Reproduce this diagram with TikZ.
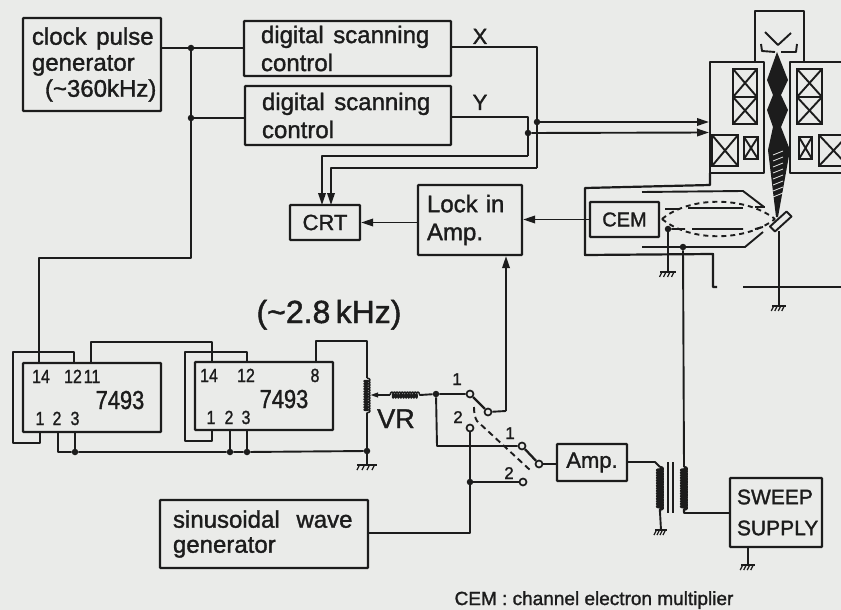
\documentclass[tikz,border=0pt]{standalone}
\usepackage{fontspec}
\setmainfont{Liberation Sans}[RawFeature={embolden=1.4}]
\usetikzlibrary{arrows.meta,decorations.pathmorphing,calc}
\definecolor{paper}{RGB}{234,235,233}
\definecolor{ink}{RGB}{28,28,28}
\newcommand{\narrow}[1]{\scalebox{0.84}[1]{#1}}
\tikzset{
  wire/.style={draw=ink,line width=1.9pt,line join=round},
  arr/.style={wire,-{Triangle[length=12pt,width=7.5pt]}},
  box/.style={draw=ink,line width=2.2pt,inner sep=0pt,text=ink,align=left,rounded corners=0.6pt},
  txt/.style={font=\fontsize{24}{28}\selectfont},
  lab/.style={text=ink,inner sep=0pt,anchor=base},
  pin/.style={lab,font=\fontsize{19}{19}\selectfont},
  swn/.style={lab,font=\fontsize{17}{17}\selectfont},
  dot/.style={circle,fill=ink,inner sep=0pt,minimum size=6.5pt},
  contact/.style={circle,draw=ink,line width=1.7pt,fill=paper,inner sep=0pt,minimum size=7pt},
  coilw/.style={wire,decorate,decoration={coil,segment length=2.6pt,amplitude=3pt,aspect=0.4}},
  coilb/.style={draw=ink,line width=1.9pt},
  pics/gnd/.style={code={
    \draw[draw=ink,line width=2.2pt] (-#1,0)--(#1,0);
    \foreach \k in {-3,-1,1,3}{\draw[draw=ink,line width=1.3pt] ({\k*#1/4},0)--({\k*#1/4-2.5},5);}
  }}
}
\newcommand{\xcoil}[4]{\draw[coilb] (#1,#2) rectangle (#3,#4) (#1,#2)--(#3,#4) (#1,#4)--(#3,#2);}
\begin{document}
\begin{tikzpicture}[x=1pt,y=-1pt]
\fill[paper] (0,0) rectangle (841,610);
\useasboundingbox (0,0) rectangle (841,610);

% boxes
\node[box,minimum width=138,minimum height=93,inner xsep=9pt,text width=120pt,font=\fontsize{24}{26}\selectfont] (clock) at (92,64.5)
  {\mbox{clock\hspace{0.4em}pulse}\\generator\\\mbox{\hspace*{13pt}(\textasciitilde 360kHz)}};
\node[box,txt,minimum width=207,minimum height=55,inner xsep=17pt,text width=173pt] (dsx) at (347.5,48.5) {digital\hspace{0.4em}scanning\\control};
\node[box,txt,minimum width=206,minimum height=59,inner xsep=17pt,text width=172pt] (dsy) at (348,115.5) {digital\hspace{0.4em}scanning\\control};
\node[box,minimum width=70,minimum height=35,font=\fontsize{22}{28}\selectfont] (crt) at (325,222.5) {CRT};
\node[box,txt,minimum width=104,minimum height=70,inner xsep=9pt,text width=86pt] (lock) at (470,220) {Lock in\\Amp.};
\node[box,minimum width=69,minimum height=35,font=\fontsize{20}{28}\selectfont] (cem) at (624.5,219.5) {CEM};
\node[box,minimum width=138,minimum height=69] (chipa) at (92,397.5) {};
\node[box,minimum width=138,minimum height=68] (chipb) at (264,396) {};
\node[box,minimum width=208,minimum height=68,inner xsep=9pt,text width=190pt,font=\fontsize{24}{25}\selectfont] (sine) at (264,534)
  {\hspace*{4pt}sinusoidal\hspace{0.7em}wave\\\hspace*{4pt}generator};
\node[box,minimum width=70,minimum height=37,font=\fontsize{22}{28}\selectfont] (amp) at (592,462.5) {Amp.};
\node[box,minimum width=92,minimum height=69,inner xsep=7pt,text width=78pt,font=\fontsize{21}{31}\selectfont] (sweep) at (776,512.5) {SWEEP\\SUPPLY};

% labels
\node[lab,font=\fontsize{22}{22}\selectfont] (lx) at (480,44) {X};
\node[lab,font=\fontsize{22}{22}\selectfont] (ly) at (480,110) {Y};
\node[lab,font=\fontsize{32}{32}\selectfont] (freq) at (329,323) {(\textasciitilde 2.8\,kHz)};
\node[lab,font=\fontsize{27}{27}\selectfont] (vr) at (396,428) {VR};
\node[lab,font=\fontsize{19}{19}\selectfont] (note) at (594,605) {CEM : channel electron multiplier};
\node[pin] (a14) at (41,383) {\narrow{14}};
\node[pin] (a12) at (73,383) {\narrow{12}};
\node[pin] (a11) at (92,383) {\narrow{11}};
\node[pin] (a1) at (40,425) {\narrow{1}};
\node[pin] (a2) at (57,425) {\narrow{2}};
\node[pin] (a3) at (75,425) {\narrow{3}};
\node[lab,font=\fontsize{26}{26}\selectfont] (an) at (120,409) {\narrow{7493}};
\node[pin] (b14) at (209,382) {\narrow{14}};
\node[pin] (b12) at (246,382) {\narrow{12}};
\node[pin] (b8) at (315,382) {\narrow{8}};
\node[pin] (b1) at (211,424) {\narrow{1}};
\node[pin] (b2) at (229,424) {\narrow{2}};
\node[pin] (b3) at (246,424) {\narrow{3}};
\node[lab,font=\fontsize{26}{26}\selectfont] (bn) at (284,408) {\narrow{7493}};
\node[swn] (s1a) at (457,385) {1};
\node[swn] (s2a) at (458,423) {2};
\node[swn] (s1b) at (510,439) {1};
\node[swn] (s2b) at (509,479) {2};

% junctions
\node[dot] (j1) at (191,48) {};
\node[dot] (j2) at (191,118) {};
\node[dot] (xd) at (537,122) {};
\node[dot] (yd) at (528,133) {};
\node[dot] (ja) at (75,452) {};
\node[dot] (jb) at (230,452) {};
\node[dot] (jc) at (247,452) {};
\node[dot] (jd) at (367,451) {};
\node[dot] (je) at (436,394) {};
\node[dot] (jf) at (470,482) {};
\node[dot] (jg) at (668,229) {};
\node[dot] (jh) at (683,247) {};
\node[contact] (c1a) at (470,394) {};
\node[contact] (c2a) at (470,428) {};
\node[contact] (cca) at (488,412) {};
\node[contact] (c1b) at (522,446) {};
\node[contact] (c2b) at (523,482) {};
\node[contact] (ccb) at (539,464) {};

% clock wiring
\coordinate (p14a) at (39,363);
\coordinate (j3) at (191,258);
\draw[wire] (clock.east |- j1) -- (j1) -- (dsx.west |- j1);
\draw[wire] (j1) -- (j2) -- (j3) -| (p14a);
\draw[wire] (j2) -- (dsy.west |- j2);

% X / Y wiring
\coordinate (xc) at (537,168); \coordinate (yc) at (528,156);
\coordinate (crtx) at (331,205); \coordinate (crty) at (322,205);
\coordinate (xt) at (537,47); \coordinate (yt) at (528,117);
\draw[wire] (dsx.east |- xt) -- (xt) -- (xd) -- (xc);
\draw[wire] (dsy.east |- yt) -- (yt) -- (yd) -- (yc);
\draw[arr] (xc) -| (crtx);
\draw[arr] (yc) -| (crty);
\coordinate (mx) at (709,122); \coordinate (my) at (709,132.5);
\draw[arr] (xd) -- (mx);
\draw[arr] (yd) -- (my);
\draw[arr] (lock.west |- crt.east) -- (crt.east);
\draw[arr] (cem.west) -- (lock.east |- cem.west);

% chip wiring
\coordinate (w12a) at (74,352); \coordinate (w12b) at (13,352); \coordinate (w1b) at (13,443); \coordinate (w1c) at (40,443);
\draw[wire] (w12a |- chipa.north) -- (w12a) -- (w12b) -- (w1b) -- (w1c) -- (w1c |- chipa.south);
\coordinate (w11) at (91,342); \coordinate (w14) at (212,342);
\draw[wire] (w11 |- chipa.north) -- (w11) -- (w14) -- (w14 |- chipb.north);
\coordinate (v12) at (247,352); \coordinate (v12b) at (185,352); \coordinate (v1) at (185,441); \coordinate (v1b) at (212,441);
\draw[wire] (v12 |- chipb.north) -- (v12) -- (v12b) -- (v1) -- (v1b) -- (v1b |- chipb.south);
\coordinate (v8) at (316,341); \coordinate (pt) at (367,341); \coordinate (r1) at (367,378); \coordinate (r2) at (367,413);
\draw[wire] (v8 |- chipb.north) -- (v8) -- (pt) -- (r1);
\draw[coilw,line width=1.5pt] (r1) -- (r2);
\draw[wire] (r2) -- (jd);
\coordinate (b0) at (58,452);
\draw[wire] (b0 |- chipa.south) -- (b0) -- (ja) -- (jb) -- (jc) -- (jd);
\draw[wire] (ja) -- (ja |- chipa.south);
\draw[wire] (jb) -- (jb |- chipb.south);
\draw[wire] (jc) -- (jc |- chipb.south);
\coordinate (g1) at (367,465);
\draw[wire] (jd) -- (g1);
\pic at (g1) {gnd=10};

% VR and switches
\coordinate (wp) at (370,395); \coordinate (wq) at (390,395); \coordinate (wr) at (420,395);
\draw[wire,-{Triangle[length=8pt,width=4.5pt]}] (wq) -- (wp);
\draw[coilw,line width=1.5pt] (wq) -- (wr);
\draw[wire] (wr) -- (je) -- (c1a);
\coordinate (k1) at (437,446);
\draw[wire] (je) -- (k1) -- (c1b);
\coordinate (sl) at (470,533);
\draw[wire] (c2a) -- (jf) -- (sl) -- (sine.east |- sl);
\draw[wire] (jf) -- (c2b);
\draw[wire,line width=2.3pt] (c1a) -- (cca);
\draw[wire,line width=2.3pt] (c1b) -- (ccb);
\coordinate (lk) at (506,411);
\draw[wire] (cca) -- (lk);
\draw[arr] (lk) -- (lk |- lock.south);
\draw[wire] (ccb) -- (amp.west |- ccb);
\coordinate (d1) at (474,407); \coordinate (d2) at (477,421); \coordinate (d3) at (530,470);
\draw[wire,dash pattern=on 6pt off 4pt] (d1) .. controls (474,413) and (475,418) .. (d2) -- (d3);

% transformer
\coordinate (tp) at (660,462); \coordinate (tq) at (660,467); \coordinate (tr) at (660,512); \coordinate (g2) at (661,530);
\draw[wire] (amp.east |- tp) -- (655,462) -- (tq);
\draw[coilw,line width=2.4pt] (tq) -- (tr);
\draw[wire] (tr) -- (g2);
\pic at (g2) {gnd=6};
\draw[wire,line width=1.4pt] (668,462) -- (668,513) (673,462) -- (673,513);
\coordinate (su) at (684,467); \coordinate (sd) at (684,512); \coordinate (st) at (684,513);
\draw[coilw,line width=2.4pt] (su) -- (sd);
\draw[wire] (su) -- (jh);
\draw[wire] (sd) -- (st) -- (sweep.west |- st);
\coordinate (g3) at (748,565);
\draw[wire] (g3 |- sweep.south) -- (g3);
\pic at (g3) {gnd=7};

% microscope column
\begin{scope}
\clip (0,0) rectangle (841,610);
\draw[wire,line width=2.2pt] (755,62) -- (755,11) -- (804,11) -- (804,62);
\draw[wire,line width=2.2pt] (710,173) -- (710,62) -- (764,62) -- (764,173) -- cycle;
\draw[wire,line width=2.2pt] (850,62) -- (790,62) -- (790,173) -- (850,173);
\xcoil{733}{69}{757}{97}\xcoil{733}{97}{757}{124}
\xcoil{797}{69}{822}{97}\xcoil{797}{97}{822}{124}
\xcoil{712}{135}{738}{166}\xcoil{744}{137}{758}{159}
\xcoil{799}{137}{812}{159}\xcoil{819}{135}{848}{166}
\draw[wire] (765,32) -- (778,45) -- (791,33);
\draw[wire] (761,44) -- (762,51) -- (775,52) (781,52) -- (796,52) -- (797,44);
\fill[ink] (777,52) -- (788,80) -- (781,95) -- (788,110) -- (781,127) -- (790,150) -- (778,217)
  -- (776,217) -- (768,150) -- (773,127) -- (767,110) -- (773,95) -- (767,80) -- cycle;
\foreach \yy in {152,158,...,194}{\draw[paper,line width=0.8pt] (773,\yy+3) -- (783,\yy-1);}
\draw[wire,fill=paper] (770,226.5) -- (775,231.5) -- (791.5,216.5) -- (786.5,211.5) -- cycle;
\coordinate (g4) at (779,306);
\draw[wire] (779,231) -- (g4);
\pic at (g4) {gnd=7};
\draw[wire] (743,287) -- (841,287);
\draw[wire,line width=2.2pt] (710,173) -- (710,185) -- (585,188) -- (585,255) -- (713,254) -- (713,287) -- (717,287);
\end{scope}

% energy analyser
\draw[wire] (642,192) -- (743,191) -- (764,207);
\draw[wire] (642,247) -- (745,247) -- (763,232);
\draw[wire] (665,209) -- (680,209) (688,208) -- (743,208) (755,207) -- (765,207);
\draw[wire] (jg) -- (685,229) (692,229) -- (743,229) (755,229) -- (763,227);
\draw[wire,dash pattern=on 5pt off 4pt] (662,219) .. controls (690,196) and (745,196) .. (775,219);
\draw[wire,dash pattern=on 5pt off 4pt] (662,219) .. controls (690,242) and (745,242) .. (775,219);
\coordinate (g5) at (668,272);
\draw[wire] (jg) -- (g5);
\pic at (g5) {gnd=8};
\end{tikzpicture}
\end{document}
